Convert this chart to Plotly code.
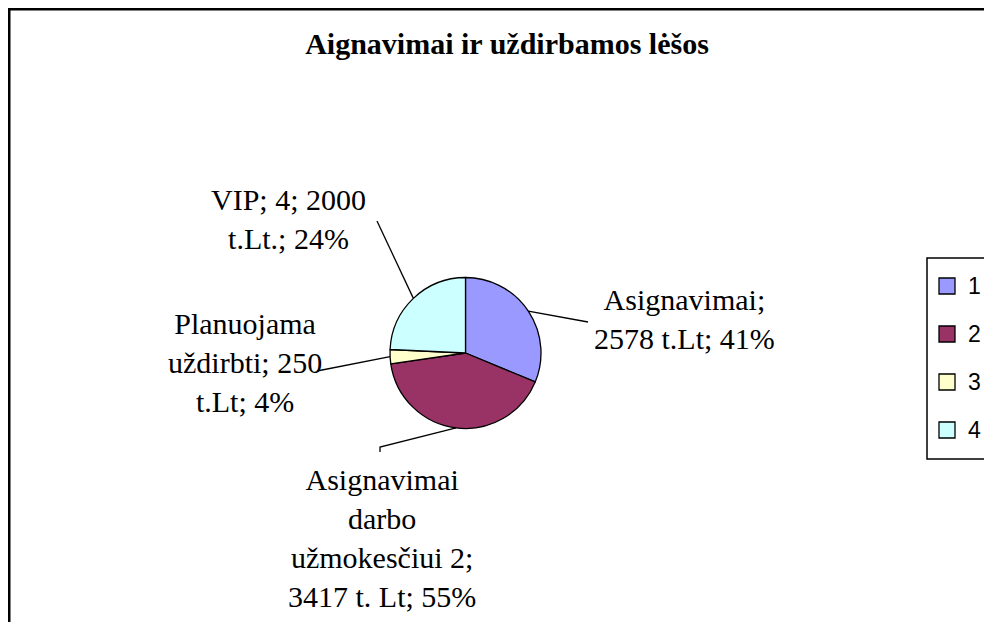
import math
import plotly.graph_objects as go

# ---- data ----
categories = ["1", "2", "3", "4"]
values = [2578, 3417, 250, 2000]
label_texts = [
    "Asignavimai;<br>2578 t.Lt; 41%",
    "Asignavimai<br>darbo<br>užmokesčiui 2;<br>3417 t. Lt; 55%",
    "Planuojama<br>uždirbti; 250<br>t.Lt; 4%",
    "VIP; 4; 2000<br>t.Lt.; 24%",
]
colors = ["#9999FF", "#993366", "#FFFFCC", "#CCFFFF"]
title_text = "Aignavimai ir uždirbamos lėšos"

# ---- layout constants (pixels, figure coordinates; page adds an 8px body margin) ----
W, H = 992, 622
CX, CY, R = 457.5, 345, 75.5
# label centre offsets from the slice edge point (pixels, +y is down)
label_offsets = [(156, 8), (-74, 110), (-145, 6), (-125, -79)]
# leader line polylines (after the slice edge point), pixel positions
leader_paths = [
    [(580, 314)],
    [(372, 439), (372, 444)],
    [(309, 363)],
    [(369, 213)],
]

def px2paper(x, y):
    return x / W, 1 - y / H

fig = go.Figure()
fig.add_trace(go.Pie(
    labels=categories,
    values=values,
    sort=False,
    direction="clockwise",
    rotation=0,
    textinfo="none",
    hoverinfo="label+value+percent",
    marker=dict(colors=colors, line=dict(color="black", width=1.3)),
    domain=dict(x=[(CX - R) / W, (CX + R) / W], y=[1 - (CY + R) / H, 1 - (CY - R) / H]),
    showlegend=False,
))

# labels + leader lines anchored at each slice's mid-angle
total = sum(values)
cum = 0
for v, txt, (ox, oy), path in zip(values, label_texts, label_offsets, leader_paths):
    mid = (cum + v / 2) / total * 2 * math.pi
    cum += v
    px = CX + R * math.sin(mid)
    py = CY - R * math.cos(mid)
    tx, ty = px2paper(px + ox, py + oy)
    fig.add_annotation(
        x=tx, y=ty, xref="paper", yref="paper", showarrow=False,
        text=txt, xanchor="center", yanchor="middle", align="center",
        font=dict(family="Liberation Serif, Times New Roman, serif", size=30, color="black"),
    )
    pts = [(px, py)] + path
    d = "M " + " L ".join("%.5f %.5f" % px2paper(x, y) for x, y in pts)
    fig.add_shape(type="path", xref="paper", yref="paper", path=d,
                  line=dict(color="black", width=1.3))

# outer chart border (cut by the image edge on right/bottom)
fig.add_shape(type="rect", xref="paper", yref="paper",
              x0=1.0 / W, x1=1.05, y0=-0.05, y1=1 - 1.0 / H,
              line=dict(color="black", width=3), fillcolor="rgba(0,0,0,0)")

# legend box (drawn from categories/colors)
LX, LY0, LY1 = 919, 250, 451
x0, y1 = px2paper(LX, LY0)
x1, y0 = px2paper(W + 20, LY1)
fig.add_shape(type="rect", xref="paper", yref="paper", x0=x0, x1=x1, y0=y0, y1=y1,
              line=dict(color="black", width=1.5), fillcolor="white")
for i, (cat, col) in enumerate(zip(categories, colors)):
    cy = 278 + 48 * i
    sx0, sy1 = px2paper(931, cy - 8)
    sx1, sy0 = px2paper(947, cy + 8)
    fig.add_shape(type="rect", xref="paper", yref="paper", x0=sx0, x1=sx1, y0=sy0, y1=sy1,
                  line=dict(color="black", width=1.3), fillcolor=col)
    ax_, ay_ = px2paper(958, cy)
    fig.add_annotation(x=ax_, y=ay_, xref="paper", yref="paper", showarrow=False,
                       text=cat, xanchor="left", yanchor="middle",
                       font=dict(family="Liberation Sans, Arial, sans-serif", size=23, color="black"))

fig.update_layout(
    width=W, height=H,
    margin=dict(l=0, r=0, t=0, b=0),
    paper_bgcolor="white", plot_bgcolor="white",
    showlegend=False,
    title=dict(text="<b>" + title_text + "</b>", x=499 / W, y=1 - 35 / H,
               xanchor="center", yanchor="middle",
               font=dict(family="Liberation Serif, Times New Roman, serif", size=30, color="black")),
)

fig.write_html("out.html")
